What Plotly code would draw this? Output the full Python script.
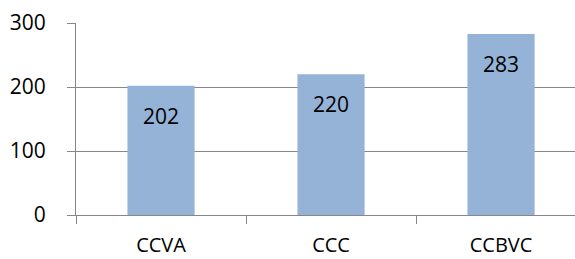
import plotly.graph_objects as go

categories = ["CCVA", "CCC", "CCBVC"]
values = [202, 220, 283]
y_ticks = [0, 100, 200, 300]

FONT = "Open Sans"
GRID = "#878787"

fig = go.Figure()
fig.add_trace(go.Bar(
    x=categories, y=values,
    marker=dict(color="#95B3D7", line=dict(width=0)),
    width=0.395,
    hoverinfo="skip",
))

for c, v in zip(categories, values):
    fig.add_annotation(x=c, y=v, text=str(v), showarrow=False,
                       yanchor="top", yshift=-14,
                       font=dict(family=FONT, size=21, color="#000000"))

fig.update_layout(
    width=575, height=259,
    margin=dict(l=76, r=0, t=23, b=44),
    paper_bgcolor="white", plot_bgcolor="white",
    showlegend=False,
    bargap=0.6,
    font=dict(family=FONT, size=20, color="#000000"),
)
fig.update_xaxes(
    type="category", range=[-0.5, 2.435], automargin=False,
    tickson="boundaries", ticks="outside", ticklen=8, tickcolor=GRID,
    showline=True, linecolor=GRID, linewidth=1,
    showgrid=False, ticklabelstandoff=12,
    tickfont=dict(size=20),
)
fig.update_yaxes(
    range=[0, 300], tickvals=y_ticks, automargin=False,
    ticks="outside", ticklen=8, tickcolor=GRID,
    showline=True, linecolor=GRID, linewidth=1,
    showgrid=True, gridcolor=GRID, gridwidth=1,
    zeroline=False, ticklabelstandoff=17,
    tickfont=dict(size=21),
)

fig.write_html("out.html",
               config={"displayModeBar": False, "staticPlot": True},
               post_script="document.body.style.margin='0';document.body.style.overflow='hidden';")
